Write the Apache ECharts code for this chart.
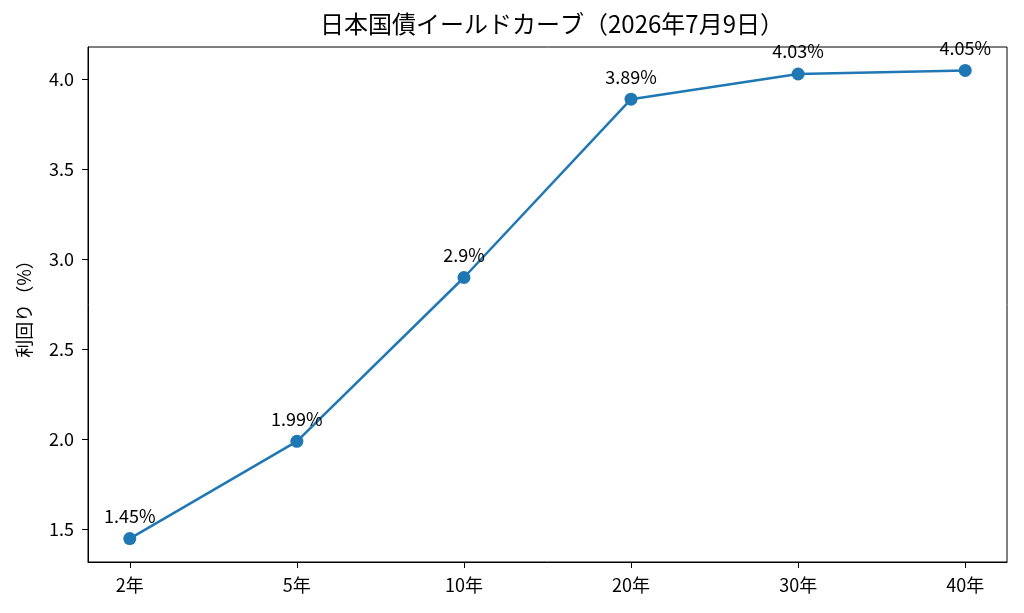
<!DOCTYPE html>
<html>
<head>
<meta charset="utf-8">
<script src="https://cdn.jsdelivr.net/npm/echarts@6/dist/echarts.min.js"></script>
<style>
html, body { margin: 0; padding: 0; background: #fff; }
#main { width: 1024px; height: 613px; }
</style>
</head>
<body>
<div id="main"></div>
<script>
// 年限と利回り
var maturities = ["2年", "5年", "10年", "20年", "30年", "40年"];
var yields = [1.45, 1.99, 2.9, 3.89, 4.03, 4.05];
var yTicks = [1.5, 2.0, 2.5, 3.0, 3.5, 4.0];
var xTicks = [0, 1, 2, 3, 4, 5];

var font = '"Noto Sans CJK JP", "Noto Sans", sans-serif';
var lineColor = '#1f77b4';

var seriesData = [];
for (var i = 0; i < yields.length; i++) {
	seriesData.push([i, yields[i]]);
}

var chart = echarts.init(document.getElementById('main'));
var option = {
	animation: false,
	textStyle: { fontFamily: font },
	title: {
		text: '日本国債イールドカーブ（2026年7月9日）',
		left: 547,
		textAlign: 'center',
		top: 7,
		textStyle: { fontFamily: font, fontSize: 24, fontWeight: 'normal', color: '#000' }
	},
	grid: {
		left: 88, right: 17, top: 47, bottom: 51,
		show: true, borderColor: '#000', borderWidth: 1
	},
	xAxis: {
		type: 'value',
		min: -0.25,
		max: 5.25,
		splitLine: { show: false },
		axisLine: { show: true, onZero: false, lineStyle: { color: '#000' } },
		axisTick: { show: true, length: 6, customValues: xTicks, lineStyle: { color: '#000' } },
		axisLabel: {
			customValues: xTicks,
			margin: 14,
			color: '#000',
			fontSize: 18,
			fontFamily: font,
			formatter: function(v) { return maturities[Math.round(v)]; }
		}
	},
	yAxis: {
		type: 'value',
		min: 1.32,
		max: 4.18,
		name: '利回り（%）',
		nameLocation: 'middle',
		nameGap: 55,
		nameTextStyle: { fontSize: 18, color: '#000', fontFamily: font },
		splitLine: { show: false },
		axisLine: { show: true, onZero: false, lineStyle: { color: '#000' } },
		axisTick: { show: true, length: 6, customValues: yTicks, lineStyle: { color: '#000' } },
		axisLabel: {
			customValues: yTicks,
			margin: 14,
			color: '#000',
			fontSize: 18,
			fontFamily: font,
			formatter: function(v) { return v.toFixed(1); }
		}
	},
	series: [{
		type: 'line',
		data: seriesData,
		symbol: 'circle',
		symbolSize: 13,
		lineStyle: { color: lineColor, width: 2.5 },
		itemStyle: { color: lineColor },
		label: {
			show: true,
			position: 'top',
			distance: 7,
			color: '#000',
			fontSize: 18,
			fontFamily: font,
			formatter: function(p) { return p.value[1] + '%'; }
		}
	}]
};
chart.setOption(option);
</script>
</body>
</html>
